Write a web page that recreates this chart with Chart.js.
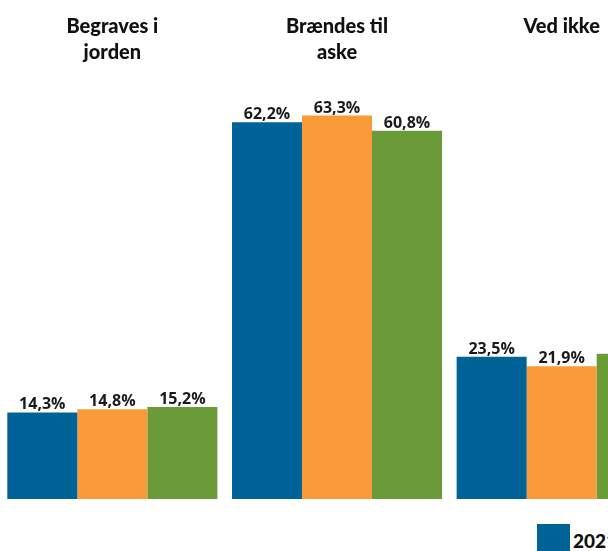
<!DOCTYPE html>
<html>
<head>
<meta charset="utf-8">
<script src="https://cdn.jsdelivr.net/npm/chart.js@4.4.1/dist/chart.umd.min.js"></script>
<style>
  html, body { margin: 0; padding: 0; background: #fff; overflow: hidden; width: 608px; height: 551px; }
  #wrap { position: absolute; left: 0; top: 0; width: 674px; height: 499px; }
  #legend { position: absolute; left: 537px; top: 524px; display: flex; gap: 14px; white-space: nowrap;
            font: 900 19px Lato, sans-serif; color: #111; }
  .item { display: flex; align-items: flex-start; }
  .sw { width: 33px; height: 33px; margin-right: 3px; }
  .txt { padding-top: 6px; line-height: 22px; }
</style>
</head>
<body>
<div id="wrap"><canvas id="chart"></canvas></div>
<div id="legend"></div>
<script>
// ── Data ──────────────────────────────────────────────────────
const categories = [['Begraves i', 'jorden'], ['Brændes til', 'aske'], ['Ved ikke', '']];
const years = ['2021', '2022', '2023'];
const values2021 = [14.3, 62.2, 23.5];
const values2022 = [14.8, 63.3, 21.9];
const values2023 = [15.2, 60.8, 24.0];
const colors = ['#006397', '#F89B38', '#6A9B38'];

const fmt = v => v.toFixed(1).replace('.', ',') + '%';

// ── Value labels above bars ───────────────────────────────────
const valueLabels = {
  id: 'valueLabels',
  afterDatasetsDraw(chart) {
    const ctx = chart.ctx;
    ctx.save();
    ctx.font = 'bold 16px "Open Sans"';
    ctx.fillStyle = '#1a1a1a';
    ctx.textAlign = 'center';
    ctx.textBaseline = 'alphabetic';
    chart.data.datasets.forEach((ds, i) => {
      chart.getDatasetMeta(i).data.forEach((bar, j) => {
        ctx.fillText(fmt(ds.data[j]), bar.x, bar.y - 3);
      });
    });
    ctx.restore();
  }
};

const series = [values2021, values2022, values2023];

new Chart(document.getElementById('chart'), {
  type: 'bar',
  data: {
    labels: categories,
    datasets: series.map((d, i) => ({
      label: years[i],
      data: d,
      backgroundColor: colors[i],
      borderWidth: 0,
      categoryPercentage: 0.935,
      barPercentage: 1
    }))
  },
  options: {
    responsive: true,
    maintainAspectRatio: false,
    animation: false,
    layout: { padding: 0 },
    plugins: {
      legend: { display: false },
      tooltip: { enabled: false }
    },
    scales: {
      x: {
        position: 'top',
        grid: { display: false, drawTicks: false },
        border: { display: false },
        ticks: {
          color: '#111',
          padding: 9,
          maxRotation: 0,
          autoSkip: false,
          font: { family: 'Lato', weight: '900', size: 20, lineHeight: 1.3 }
        },
        afterFit: s => { s.height = 75; }
      },
      y: { display: false, min: 0, max: 70 }
    }
  },
  plugins: [valueLabels]
});

// ── Legend ────────────────────────────────────────────────────
document.getElementById('legend').innerHTML = years.map((y, i) => `
  <div class="item"><span class="sw" style="background:${colors[i]}"></span><span class="txt">${y}</span></div>
`).join('');
</script>
</body>
</html>
